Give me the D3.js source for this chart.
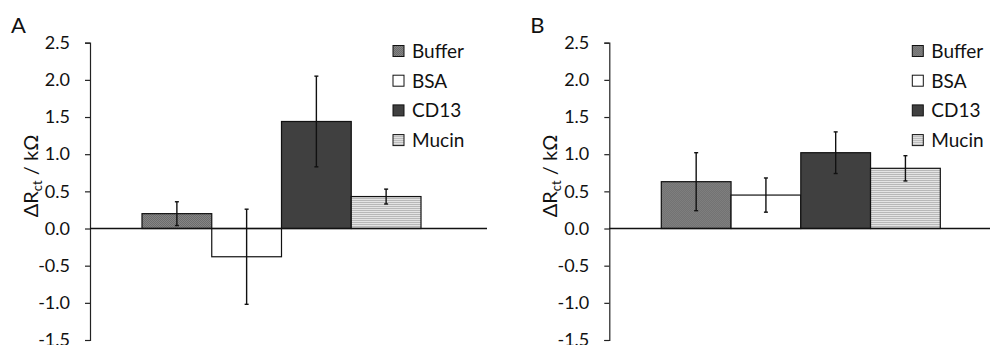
<!DOCTYPE html>
<html>
<head>
<meta charset="utf-8">
<script src="https://cdn.jsdelivr.net/npm/d3@7"></script>
<style>
  html, body { margin: 0; padding: 0; background: #fff; }
  svg { display: block; font-family: Lato, 'Open Sans', sans-serif; }
</style>
</head>
<body>
<div id="chart"></div>
<script>
const categories = ['Buffer', 'BSA', 'CD13', 'Mucin']
const meanA = [0.20, -0.38, 1.44, 0.43]
const errA = [0.16, 0.64, 0.61, 0.10]
const meanB = [0.63, 0.45, 1.02, 0.81]
const errB = [0.39, 0.23, 0.28, 0.17]
const yTicks = [-1.5, -1.0, -0.5, 0.0, 0.5, 1.0, 1.5, 2.0, 2.5]
const panels = ['A', 'B']

const width = 990
const height = 345

const svg = d3.select('#chart').append('svg')
  .attr('width', width)
  .attr('height', height)

// fill patterns
const defs = svg.append('defs')
const stipple = defs.append('pattern')
  .attr('id', 'pat-buffer')
  .attr('width', 2).attr('height', 2)
  .attr('patternUnits', 'userSpaceOnUse')
stipple.append('rect').attr('width', 2).attr('height', 2).attr('fill', '#858585')
stipple.append('rect').attr('width', 1).attr('height', 1).attr('fill', '#6c6c6c')
stipple.append('rect').attr('x', 1).attr('y', 1).attr('width', 1).attr('height', 1).attr('fill', '#6c6c6c')

const stripes = defs.append('pattern')
  .attr('id', 'pat-mucin')
  .attr('width', 4).attr('height', 2)
  .attr('patternUnits', 'userSpaceOnUse')
stripes.append('rect').attr('width', 4).attr('height', 2).attr('fill', '#e4e4e4')
stripes.append('rect').attr('width', 4).attr('height', 1).attr('fill', '#b8b8b8')

const fills = d3.scaleOrdinal()
  .domain(categories)
  .range(['url(#pat-buffer)', '#ffffff', '#404040', 'url(#pat-mucin)'])

const y = d3.scaleLinear()
  .domain([-1.5, 2.5])
  .range([340, 42.7])

const plotWidth = 397

function drawPanel(letter, means, errs, left) {
  const data = categories.map((c, i) => ({ cat: c, mean: means[i], err: errs[i] }))

  const g = svg.append('g')
    .attr('transform', `translate(${left}, 0)`)

  const x = d3.scaleBand()
    .domain(categories)
    .range([52, 331])
    .padding(0)

  // panel letter
  g.append('text')
    .attr('x', -79)
    .attr('y', 33)
    .attr('font-size', '22px')
    .attr('fill', '#111')
    .text(letter)

  // y axis
  const yAxis = g.append('g')
    .call(d3.axisLeft(y)
      .tickValues(yTicks)
      .tickSize(5)
      .tickPadding(15)
      .tickFormat(d => d.toFixed(1)))
  yAxis.select('.domain').attr('stroke', '#222').attr('stroke-width', 1.2)
  yAxis.selectAll('.tick line').attr('stroke', '#222').attr('stroke-width', 1.2)
  yAxis.selectAll('.tick text')
    .attr('font-size', '18px')
    .attr('font-family', 'Lato, sans-serif')
    .attr('fill', '#111')

  // y axis title
  const title = g.append('text')
    .attr('transform', `translate(-52, 176) rotate(-90)`)
    .attr('text-anchor', 'middle')
    .attr('font-size', '20px')
    .attr('fill', '#111')
  title.append('tspan').text('ΔR')
  title.append('tspan').attr('font-size', '13px').attr('dy', 4).text('ct')
  title.append('tspan').attr('dy', -4).text(' / kΩ')

  // bars
  g.selectAll('rect.bar')
    .data(data)
    .enter().append('rect')
    .attr('class', 'bar')
    .attr('x', d => x(d.cat))
    .attr('width', x.bandwidth())
    .attr('y', d => y(Math.max(0, d.mean)))
    .attr('height', d => Math.abs(y(d.mean) - y(0)))
    .attr('fill', d => fills(d.cat))
    .attr('stroke', '#111')
    .attr('stroke-width', 1.2)

  // zero line
  g.append('line')
    .attr('x1', 0)
    .attr('x2', plotWidth)
    .attr('y1', y(0))
    .attr('y2', y(0))
    .attr('stroke', '#111')
    .attr('stroke-width', 1.6)

  // error bars
  const eb = g.selectAll('g.err')
    .data(data)
    .enter().append('g')
    .attr('class', 'err')
    .attr('transform', d => `translate(${x(d.cat) + x.bandwidth() / 2}, 0)`)
  eb.append('line')
    .attr('y1', d => y(d.mean + d.err))
    .attr('y2', d => y(d.mean - d.err))
    .attr('stroke', '#111')
    .attr('stroke-width', 1.4)
  eb.append('line')
    .attr('x1', -2).attr('x2', 2)
    .attr('y1', d => y(d.mean + d.err))
    .attr('y2', d => y(d.mean + d.err))
    .attr('stroke', '#111')
    .attr('stroke-width', 1.4)
  eb.append('line')
    .attr('x1', -2).attr('x2', 2)
    .attr('y1', d => y(d.mean - d.err))
    .attr('y2', d => y(d.mean - d.err))
    .attr('stroke', '#111')
    .attr('stroke-width', 1.4)

  // legend
  const legend = g.append('g')
    .attr('transform', 'translate(303, 51)')
  categories.forEach((c, i) => {
    const row = legend.append('g')
      .attr('transform', `translate(0, ${i * 29.7})`)
    row.append('rect')
      .attr('x', 0)
      .attr('y', -5.5)
      .attr('width', 11)
      .attr('height', 11)
      .attr('fill', fills(c))
      .attr('stroke', '#111')
      .attr('stroke-width', 1)
    row.append('text')
      .attr('x', 19)
      .attr('y', 7)
      .attr('font-size', '19px')
      .attr('fill', '#111')
      .text(c)
  })
}

drawPanel(panels[0], meanA, errA, 90)
drawPanel(panels[1], meanB, errB, 609.3)
</script>
</body>
</html>
